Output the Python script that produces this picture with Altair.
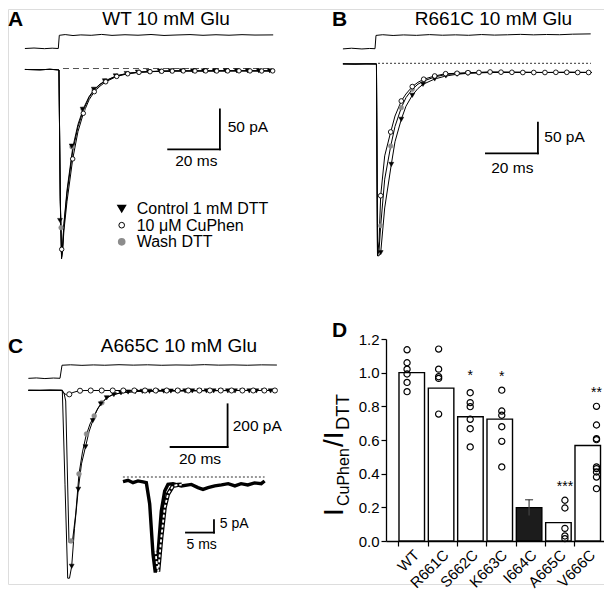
import altair as alt
import pandas as pd

FONT = "Liberation Sans"

# ------------------------------------------------------------------
# DATA  (time in ms, current in pA)
# ------------------------------------------------------------------
# Panel A : WT 10 mM Glu
A_stim_t = [-13.5, -10, -6, -3, -0.65, -0.27, 2, 5, 8, 12, 16, 20, 25, 30, 35, 40, 45, 50, 55, 60, 65, 70, 75, 82]
A_stim_I = [25.0, 25.6, 24.8, 25.4, 25.0, 41.5, 42.4, 41.2, 42.0, 41.5, 42.6, 41.4, 42.2, 41.6, 42.5, 41.3, 41.9, 42.4, 41.5, 42.2, 41.6, 42.3, 41.8, 42.0]
A_t = [-13.5, -7.7, -3.9, -1.0, -0.4, 0.1, 0.6, 1.0, 1.5, 2.7, 4.9, 6.9, 9.0, 11.2, 13.2, 15.4, 17.6, 21.8, 26.0, 30.4, 34.6, 39.1, 43.6, 53.8, 69.2, 82.0]
A_cu = [-1.2, -1.6, -1.0, -1.6, -1.9, -166, -238, -228, -203, -166, -113, -79, -56, -39, -29, -22, -16.6, -9.9, -6.6, -4.8, -4.0, -3.5, -3.1, -3.1, -2.9, -3.1]
A_ctrl = [-1.2, -1.6, -1.0, -1.6, -1.9, -160, -236, -222, -194, -152, -99, -70, -50, -35, -26, -19.5, -15, -9, -6, -4.5, -3.8, -3.3, -3.0, -3.0, -2.9, -3.0]
A_wash = [-1.2, -1.6, -1.0, -1.6, -1.9, -162, -236, -224, -197, -156, -103, -73, -52, -36, -27, -20, -15.5, -9.3, -6.2, -4.6, -3.9, -3.4, -3.1, -3.0, -2.9, -3.0]
A_cu_mt = [0.65, 4.88, 8.96, 13.19, 17.58, 21.81, 26.04, 30.38, 34.62, 39.12, 43.19, 47.42, 51.92, 56.04, 60.27, 64.5, 68.85, 73.08, 77.58, 81.8]
A_cu_mI = [-226, -113, -56, -29, -16.6, -9.9, -6.6, -4.8, -4.0, -3.5, -3.2, -3.0, -3.1, -3.0, -3.1, -3.0, -2.9, -3.0, -3.1, -3.0]
A_ctrl_mt = [0.0, 4.5, 8.7, 13.0, 17.2, 21.4, 25.6, 29.9, 34.1, 38.4, 42.6, 46.8, 51.1, 55.3, 59.5, 63.8, 68.0, 72.2, 76.5, 80.7]
A_ctrl_mI = [-190, -97, -51, -26, -15.5, -9.3, -6.3, -4.6, -3.9, -3.4, -3.1, -3.0, -3.0, -3.0, -3.0, -3.0, -3.0, -3.0, -3.0, -3.0]
A_wash_mt = [0.4, 4.6, 8.9, 13.1, 17.4]
A_wash_mI = [-199, -98, -51, -27, -15.8]
A_ref_t = [1.15, 82.0]
A_bar_t = [41.6, 61.5]
A_bar_I = [-101.0, -51.0]

# Panel B : R661C 10 mM Glu
B_stim_t = [-13.3, -10, -6, -3, -0.96, -0.58, 2, 6, 10, 15, 20, 25, 30, 35, 40, 45, 50, 55, 60, 65, 70, 75, 82]
B_stim_I = [23.5, 24.6, 23.4, 24.2, 23.8, 45.5, 46.6, 45.4, 46.3, 45.6, 46.8, 45.8, 46.4, 45.7, 46.9, 46.0, 46.5, 47.2, 46.4, 47.0, 46.6, 47.5, 48.0]
B_cu_t = [-13.3, -8.7, -4.4, -0.4, 0.0, 0.6, 1.23, 2.77, 5.08, 6.73, 9.15, 10.96, 13.38, 15.58, 17.77, 22.0, 26.2, 30.6, 34.8, 43.3, 54.8, 64.4, 74.0, 82.5]
B_cu_I = [-0.8, -1.6, -0.8, -1.1, -314, -290, -216, -151, -112, -86, -61.5, -50, -38, -31, -26, -20.7, -17, -16.3, -15.3, -14.2, -14.7, -15, -14.7, -15]
B_wash_t = [-13.3, -0.4, 0.0, 0.6, 1.23, 2.77, 5.08, 6.73, 9.15, 10.96, 13.38, 15.58, 17.77, 22.0, 26.2, 30.6, 34.8, 43.3, 54.8, 64.4, 74.0, 82.5]
B_wash_I = [-1, -1, -314, -305, -265, -189, -135, -103, -72.4, -56, -42.4, -34, -28.9, -22.3, -18.3, -16.8, -15.8, -14.5, -14.8, -15, -14.8, -15]
B_ctrl_t = [-13.3, -0.4, 0.0, 0.6, 1.23, 2.77, 5.31, 6.73, 9.15, 10.96, 13.38, 15.58, 17.5, 22.0, 26.3, 30.6, 34.8, 43.3, 54.8, 64.4, 74.0, 82.5]
B_ctrl_I = [-1, -1, -314, -314, -309, -236, -165, -128, -91.4, -70, -52.2, -41, -34.3, -25.6, -20.7, -17.9, -16.3, -15, -14.8, -15, -14.8, -15]
B_cu_mt = [1.23, 5.08, 9.15, 13.38, 17.77, 22.0, 26.2, 30.6, 34.8, 39.0, 43.3, 47.5, 51.7, 55.9, 60.1, 64.4, 68.6, 72.8, 77.0, 81.2]
B_cu_mI = [-216, -112, -61.5, -38, -26, -20.7, -17, -16.3, -15.3, -15.0, -14.2, -14.5, -14.7, -15, -15, -15, -14.7, -14.7, -15, -15]
B_wash_mt = [1.23, 5.08, 9.15, 13.38, 17.77, 22.0, 26.3]
B_wash_mI = [-265, -135, -72.4, -42.4, -28.9, -22.3, -18.3]
B_ctrl_mt = [1.23, 5.31, 9.15, 13.38, 17.5, 22.0, 26.3, 30.6, 34.8]
B_ctrl_mI = [-309, -165, -91.4, -52.2, -34.3, -25.6, -20.7, -17.9, -16.3]
B_ref_t = [0.2, 82.1]
B_bar_t = [41.7, 61.7]
B_bar_I = [-146.8, -96.9]

# Panel C : A665C 10 mM Glu
C_stim_t = [-11.8, -9, -6, -3, -0.7, 0, 3, 7, 11, 15, 20, 25, 30, 35, 40, 45, 50, 55, 60, 65, 70, 75.4]
C_stim_I = [56, 58, 55, 57.5, 56.3, 117.5, 119.5, 117, 119, 117.5, 120, 118, 119.5, 117.3, 118.8, 117.8, 120.2, 118, 119, 117.5, 119.3, 118.4]
C_ctrl_t = [-11.82, -7.72, -4.21, -0.18, 0.11, 1.05, 2.0, 2.63, 3.4, 4.39, 5.72, 6.84, 8.25, 9.47, 10.81, 12.11, 13.61, 15.68, 17.54, 20.35, 25.61, 34.39, 48.42, 62.46, 75.44]
C_ctrl_I = [0, -0.9, 1.4, 0, 0, -440, -881, -881, -825, -647, -464, -345, -265, -195, -142, -97, -64, -35, -22, -12.7, -5.6, -3.3, -1.9, -0.9, -0.9]
C_wash_t = [-11.82, -0.18, 0.11, 0.7, 1.3, 2.46, 3.61, 4.81, 5.96, 7.19, 8.42, 9.82, 11.33, 12.63, 13.93, 15.68, 17.54, 20.35, 25.61, 34.39, 48.42, 62.46, 75.44]
C_wash_I = [0, 0, 0, -12.7, -50.2, -714, -714, -580, -392, -289, -214, -158, -120, -83, -59.5, -36, -22, -12.7, -5.6, -3.3, -1.9, -0.9, -0.9]
C_cu_t = [-11.82, -0.18, 0.53, 1.58, 2.56, 3.86, 5.61, 8.07, 75.44]
C_cu_I = [0, 0, -12.7, -21.1, -18.8, -10.3, -3.3, -0.9, -0.9]
C_cu_mt = [2.56, 6.32, 10.07, 13.93, 17.79, 21.51, 25.37, 29.12, 32.87, 36.73, 40.6, 44.3, 48.2, 51.9, 55.7, 59.5, 63.3, 67.1, 71.0, 74.7]
C_cu_mI = [-18.8, -2.0, -1.0, -0.9, -0.9, -0.9, -0.9, -0.9, -0.9, -0.9, -0.9, -0.9, -0.9, -0.9, -0.9, -0.9, -0.9, -0.9, -0.9, -0.9]
C_ctrl_mt = [3.4, 5.72, 8.25, 10.81, 13.61, 15.68, 18.2, 20.7, 23.2, 25.7, 28.2, 30.7, 33.2, 35.7, 38.2, 40.7, 43.2, 45.7, 48.2, 50.7, 53.2, 55.7, 58.2, 60.7, 63.2, 65.7, 68.2, 70.7, 73.2]
C_ctrl_mI = [-825, -464, -265, -142, -64, -35, -20, -12, -8, -6, -5, -4.5, -4, -3.8, -3.5, -3.3, -3.2, -3, -3, -3, -3, -3, -3, -3, -3, -3, -3, -3, -3]
C_wash_mt = [3.16, 5.96, 8.6, 11.3, 14.0]
C_wash_mI = [-706, -392, -205, -120, -58]
C_bar_t = [38.1, 58.1]
C_bar_I = [-265.8, -65.6]

# Panel C inset (CuPhen response, expanded)
Ci_t = [-4.29, -3.39, -2.5, -1.61, -0.71, -0.12, 0.48, 1.07, 1.48, 1.96, 2.55, 3.16, 3.75, 4.64, 6.13, 7.92, 9.1, 10.0, 10.9, 12.1, 13.3, 14.5, 15.7, 16.8, 18.0, 19.2, 20.4, 21.0]
Ci_I = [-1.9, -1.35, -2.3, -1.6, -2.0, -2.3, -10.9, -31.2, -38.7, -31.2, -13.8, -5.7, -3.0, -2.7, -3.6, -3.0, -4.3, -5.0, -4.3, -3.6, -3.2, -2.7, -3.6, -2.7, -3.2, -2.4, -2.7, -1.6]
Ci_fit_t = [1.5, 1.8, 2.0, 2.55, 3.16, 3.75, 4.64, 5.5, 6.2]
Ci_fit_I = [-30, -36, -38.3, -24.6, -12.4, -6.9, -3.6, -3.2, -3.1]
Ci_ref_t = [-4.3, 21.0]
Ci_bar_t = [6.96, 11.96]
Ci_bar_I = [-22.5, -17.5]

# Panel D : I_CuPhen / I_DTT
D_categories = ["WT", "R661C", "S662C", "K663C", "I664C", "A665C", "V666C"]
D_means = [1.00, 0.908, 0.738, 0.724, 0.198, 0.109, 0.567]
D_fill = ["white", "white", "white", "white", "#1c1c1c", "white", "white"]
D_points = {
    "WT": [1.136, 1.059, 1.021, 0.992, 0.942, 0.887],
    "R661C": [1.140, 1.021, 0.976, 0.966, 0.754],
    "S662C": [0.881, 0.822, 0.798, 0.723, 0.667, 0.559],
    "K663C": [0.896, 0.772, 0.747, 0.679, 0.592, 0.440],
    "A665C": [0.242, 0.196, 0.075, 0.030, 0.014],
    "V666C": [0.800, 0.689, 0.608, 0.602, 0.440, 0.430, 0.410, 0.380, 0.311],
}
D_err_cat = ["I664C"]
D_err_lo = [0.152]
D_err_hi = [0.245]
D_sig_cat = ["S662C", "K663C", "A665C", "V666C"]
D_sig_txt = ["*", "*", "***", "**"]
D_sig_y = [0.983, 0.977, 0.32, 0.882]

# ------------------------------------------------------------------
# PANEL CALIBRATION (pixel of t=0 / I=0 and pixels per unit)
# ------------------------------------------------------------------
CAL = {
    "A": dict(x0=52.0, kx=2.6, y0=59.5, ky=0.8),
    "B": dict(x0=369.5, kx=2.6, y0=54.3, ky=0.613),
    "C": dict(x0=54.0, kx=2.85, y0=381.3, ky=0.2133),
    "Ci": dict(x0=139.0, kx=5.6, y0=468.0, ky=2.47),
}


def xscale(c):
    lo, hi = -30.0, 110.0
    return alt.Scale(domain=[lo, hi], range=[c["x0"] + lo * c["kx"], c["x0"] + hi * c["kx"]], nice=False, zero=False)


def yscale(c):
    lo, hi = -1500.0, 300.0
    return alt.Scale(domain=[lo, hi], range=[c["y0"] - lo * c["ky"], c["y0"] - hi * c["ky"]], nice=False, zero=False)


def enc(chart, c):
    return chart.encode(
        x=alt.X("t:Q", scale=xscale(c), axis=None),
        y=alt.Y("I:Q", scale=yscale(c), axis=None),
    )


def line(t, I, c, color="black", width=1.0, dash=None):
    kw = dict(color=color, strokeWidth=width)
    if dash:
        kw["strokeDash"] = dash
    return enc(alt.Chart(pd.DataFrame({"t": t, "I": I})).mark_line(**kw), c)


def marks(t, I, c, kind, size):
    if kind == "tri":
        kw = dict(shape="triangle-down", filled=True, fill="black", stroke="black", strokeWidth=0.5)
    elif kind == "open":
        kw = dict(shape="circle", filled=True, fill="white", stroke="black", strokeWidth=0.9)
    else:
        kw = dict(shape="circle", filled=True, fill="#8c8c8c", stroke="#8c8c8c", strokeWidth=0.5)
    return enc(alt.Chart(pd.DataFrame({"t": t, "I": I})).mark_point(size=size, opacity=1, **kw), c)


def refline(tr, c, dash, color="#333333"):
    df = pd.DataFrame({"t": [tr[0]], "t2": [tr[1]], "I": [0.0]})
    return alt.Chart(df).mark_rule(color=color, strokeWidth=1, strokeDash=dash).encode(
        x=alt.X("t:Q", scale=xscale(c), axis=None), x2="t2:Q",
        y=alt.Y("I:Q", scale=yscale(c), axis=None))


def scalebar(tb, Ib, c, width=1.8):
    df = pd.DataFrame({"t": [tb[0], tb[1]], "t2": [tb[1], tb[1]],
                       "I": [Ib[0], Ib[0]], "I2": [Ib[0], Ib[1]]})
    return alt.Chart(df).mark_rule(color="black", strokeWidth=width, strokeCap="square").encode(
        x=alt.X("t:Q", scale=xscale(c), axis=None), x2="t2:Q",
        y=alt.Y("I:Q", scale=yscale(c), axis=None), y2="I2:Q")


def label(txt, x, y, size, align="left", weight="normal", angle=0, baseline="alphabetic"):
    return alt.Chart(pd.DataFrame({"s": [txt]})).mark_text(
        align=align, baseline=baseline, fontSize=size, fontWeight=weight,
        font=FONT, angle=angle, color="black").encode(
        x=alt.value(x), y=alt.value(y), text="s:N")


def legend_mark(kind, x, y, size):
    if kind == "tri":
        kw = dict(shape="triangle-down", filled=True, fill="black", stroke="black")
    elif kind == "open":
        kw = dict(shape="circle", filled=True, fill="white", stroke="black", strokeWidth=1)
    else:
        kw = dict(shape="circle", filled=True, fill="#8c8c8c", stroke="#8c8c8c")
    return alt.Chart(pd.DataFrame({"s": ["m"]})).mark_point(size=size, opacity=1, **kw).encode(
        x=alt.value(x), y=alt.value(y))


layers = []

# ---------------- Panel A ----------------
cA = CAL["A"]
layers += [
    line(A_stim_t, A_stim_I, cA, width=1.0),
    refline(A_ref_t, cA, [6, 4], color="#555555"),
    line(A_t, A_wash, cA, width=1.0),
    line(A_t, A_ctrl, cA, width=1.0),
    line(A_t, A_cu, cA, width=1.0),
    marks(A_wash_mt, A_wash_mI, cA, "gray", 22),
    marks(A_ctrl_mt, A_ctrl_mI, cA, "tri", 24),
    marks(A_cu_mt, A_cu_mI, cA, "open", 20),
    scalebar(A_bar_t, A_bar_I, cA),
    label("A", 0.0, 16.5, 21, weight="bold"),
    label("WT 10 mM Glu", 158, 16, 19, align="center"),
    label("50 pA", 219.7, 122.5, 15.5),
    label("20 ms", 188.3, 157, 15.5, align="center"),
    legend_mark("tri", 113.7, 199.5, 44),
    legend_mark("open", 113.7, 216.2, 32),
    legend_mark("gray", 113.7, 232.8, 32),
    label("Control 1 mM DTT", 128.7, 205.0, 16),
    label("10 \u03bcM CuPhen", 128.7, 221.7, 16),
    label("Wash DTT", 128.7, 238.4, 16),
]

# ---------------- Panel B ----------------
cB = CAL["B"]
layers += [
    line(B_stim_t, B_stim_I, cB, width=1.0),
    refline(B_ref_t, cB, [2, 2]),
    line(B_ctrl_t, B_ctrl_I, cB, width=1.0),
    line(B_wash_t, B_wash_I, cB, width=1.0),
    line(B_cu_t, B_cu_I, cB, width=1.0),
    marks(B_wash_mt, B_wash_mI, cB, "gray", 22),
    marks(B_ctrl_mt, B_ctrl_mI, cB, "tri", 24),
    marks(B_cu_mt, B_cu_mI, cB, "open", 22),
    scalebar(B_bar_t, B_bar_I, cB),
    label("B", 324.0, 16.5, 21, weight="bold"),
    label("R661C 10 mM Glu", 485.5, 16, 19, align="center"),
    label("50 pA", 536.3, 132.7, 15.5),
    label("20 ms", 504.3, 163.7, 15.5, align="center"),
]

# ---------------- Panel C ----------------
cC = CAL["C"]
cI = CAL["Ci"]
layers += [
    line(C_stim_t, C_stim_I, cC, width=1.0),
    line(C_ctrl_t, C_ctrl_I, cC, width=1.0),
    line(C_wash_t, C_wash_I, cC, width=1.0),
    line(C_cu_t, C_cu_I, cC, width=1.0),
    marks(C_wash_mt, C_wash_mI, cC, "gray", 24),
    marks(C_ctrl_mt, C_ctrl_mI, cC, "tri", 24),
    marks(C_cu_mt, C_cu_mI, cC, "open", 26),
    scalebar(C_bar_t, C_bar_I, cC),
    refline(Ci_ref_t, cI, [2, 2]),
    line(Ci_t, Ci_I, cI, width=3.4),
    line(Ci_fit_t, Ci_fit_I, cI, width=4.2),
    line(Ci_fit_t, Ci_fit_I, cI, color="white", width=1.8, dash=[3, 2]),
    scalebar(Ci_bar_t, Ci_bar_I, cI),
    label("C", 0.0, 344.2, 21, weight="bold"),
    label("A665C 10 mM Glu", 171, 342.7, 19, align="center"),
    label("200 pA", 224.7, 421.5, 15.5),
    label("20 ms", 192, 454.7, 15.5, align="center"),
    label("5 pA", 211.7, 519, 14),
    label("5 ms", 193.7, 540.3, 14, align="center"),
]

# ---------------- Panel D ----------------
Dx = alt.Scale(domain=D_categories, range=[378, 599], paddingInner=0.13, paddingOuter=0.332, align=0.667)
Dy = alt.Scale(domain=[0, 1.2], range=[532, 330], nice=False, zero=False)

dfD = pd.DataFrame({"cat": D_categories, "mean": D_means, "fillc": D_fill})
rows = [(k, v) for k, vals in D_points.items() for v in vals]
dfP = pd.DataFrame({"cat": [r[0] for r in rows], "v": [r[1] for r in rows]})
dfE = pd.DataFrame({"cat": D_err_cat, "lo": D_err_lo, "hi": D_err_hi})
dfS = pd.DataFrame({"cat": D_sig_cat, "txt": D_sig_txt, "y": D_sig_y})

x_axis = alt.Axis(orient="bottom", offset=-43, title=None, labelAngle=-45, labelFont=FONT,
                  labelFontSize=15, labelColor="black", tickColor="black", domainColor="black",
                  tickSize=5, tickWidth=1.2, domainWidth=1.3, bandPosition=0, labelPadding=1, grid=False)
y_axis = alt.Axis(orient="left", offset=-378, title=None, values=[0, 0.2, 0.4, 0.6, 0.8, 1.0, 1.2],
                  format=".1f", labelFont=FONT, labelFontSize=15, labelColor="black",
                  tickColor="black", domainColor="black", tickSize=5, tickWidth=1.2,
                  domainWidth=1.3, labelPadding=2, grid=False)

layers += [
    alt.Chart(dfD).mark_bar(stroke="black", strokeWidth=1.4).encode(
        x=alt.X("cat:N", scale=Dx, sort=D_categories, axis=x_axis),
        y=alt.Y("mean:Q", scale=Dy, axis=y_axis),
        fill=alt.Fill("fillc:N", scale=None)),
    alt.Chart(dfE).mark_rule(color="#444444", strokeWidth=1.2).encode(
        x=alt.X("cat:N", scale=Dx, sort=D_categories, axis=None),
        y=alt.Y("lo:Q", scale=Dy, axis=None), y2="hi:Q"),
    alt.Chart(dfE).mark_tick(color="black", size=8, thickness=1.2).encode(
        x=alt.X("cat:N", scale=Dx, sort=D_categories, axis=None),
        y=alt.Y("hi:Q", scale=Dy, axis=None)),
    alt.Chart(dfP).mark_point(shape="circle", filled=False, color="black", size=38,
                              strokeWidth=1.2, opacity=1).encode(
        x=alt.X("cat:N", scale=Dx, sort=D_categories, axis=None),
        y=alt.Y("v:Q", scale=Dy, axis=None)),
    alt.Chart(dfS).mark_text(font=FONT, fontSize=14, color="black", baseline="middle").encode(
        x=alt.X("cat:N", scale=Dx, sort=D_categories, axis=None),
        y=alt.Y("y:Q", scale=Dy, axis=None), text="txt:N"),
    label("D", 324.0, 327.5, 21, weight="bold"),
    # y-axis title  I_CuPhen / I_DTT
    label("I", 335, 507, 28, angle=270),
    label("CuPhen", 340.5, 497, 16, angle=270),
    label("/I", 335, 438, 28, angle=270),
    label("DTT", 340.5, 421, 18.5, angle=270),
]

chart = alt.layer(*layers).resolve_scale(x="independent", y="independent").properties(
    width=596, height=575, padding=0, background="white"
).configure_view(stroke=None).configure(font=FONT)

chart.save("out.html", embed_options={"renderer": "svg", "actions": False})
